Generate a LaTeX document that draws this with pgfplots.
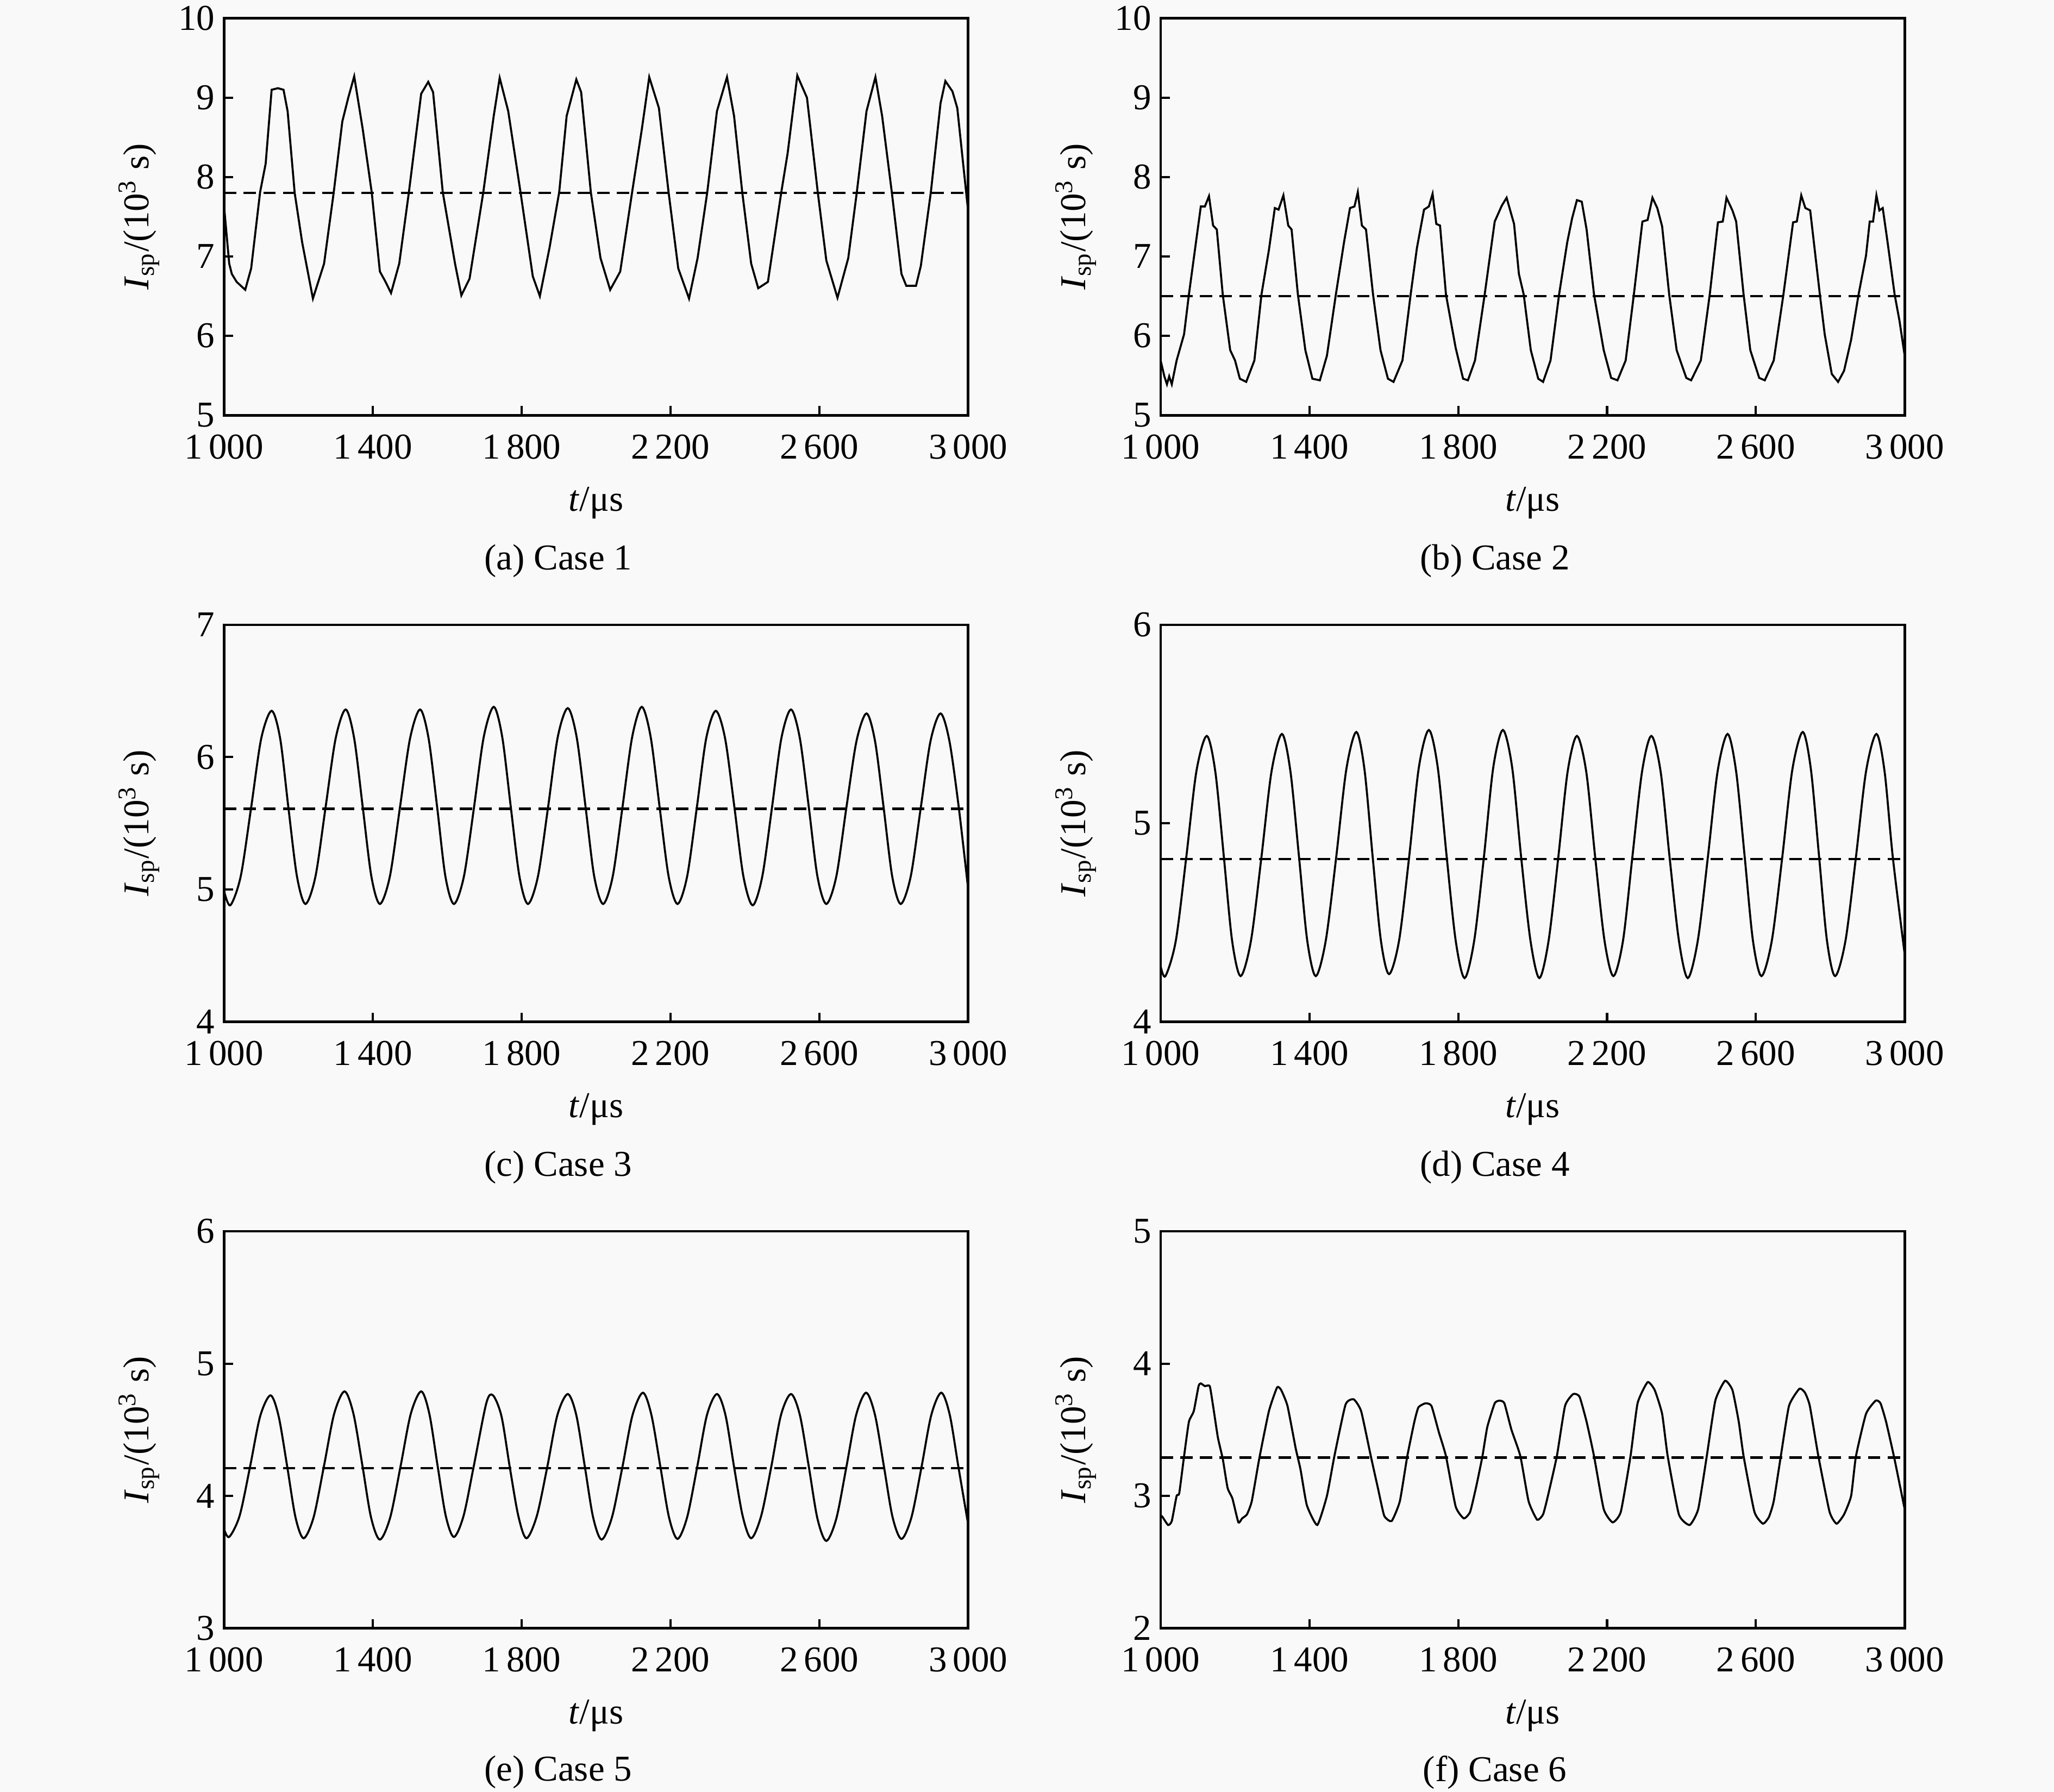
\documentclass[border=0pt]{standalone}
\usepackage{fontspec}
\setmainfont{Liberation Serif}
\usepackage{pgfplots}
\pgfplotsset{compat=1.18}
\definecolor{bg}{RGB}{249,249,249}
\pgfplotsset{
 panel/.style={
  width=204.48pt, height=109.08pt, scale only axis,
  xmin=1000, xmax=3000,
  xtick={1000,1400,1800,2200,2600,3000},
  xticklabels={1\,000,1\,400,1\,800,2\,200,2\,600,3\,000},
  tick align=inside, tick pos=left,
  major tick length=2.5pt,
  tick style={line width=0.6pt, black},
  axis line style={line width=0.7pt},
  tick label style={font=\fontsize{10}{12}\selectfont},
  label style={font=\fontsize{10}{12}\selectfont},
  /pgf/number format/assume math mode=true,
  xticklabel style={yshift=-1.8pt},
  yticklabel style={xshift=1pt},
  xlabel={\textit{t}/μs},
  ylabel={\textit{I}\textsubscript{sp}/(10\textsuperscript{3} s)},
  x label style={at={(axis description cs:0.5,-0.221)},anchor=center},
  y label style={at={(axis description cs:-0.114,0.5)},anchor=center},
  anchor=north west,
 },
 curve/.style={black, line width=0.55pt, no marks},
 mean/.style={black, line width=0.65pt, dash pattern=on 3.4pt off 2pt, no marks},
}
\begin{document}
\begin{tikzpicture}
\path[use as bounding box, fill=bg] (0,0) rectangle (564.48pt,-492.48pt);

% (a) Case 1
\begin{axis}[panel, at={(61.56pt,-5.04pt)}, ymin=5, ymax=10, ytick={5,6,7,8,9,10}]
\addplot[mean] coordinates {(1000,7.80) (3000,7.80)};
\addplot[curve] coordinates {
(1000,7.64) (1014,6.91) (1021,6.78) (1034,6.68) (1057,6.58) (1073,6.85) (1097,7.81) (1112,8.17) (1128,9.10) (1145,9.12) (1160,9.10) (1171,8.83) (1190,7.80) (1210,7.18) (1239,6.47) (1269,6.91) (1295,7.81) (1318,8.70) (1334,9.00) (1350,9.27) (1373,8.60) (1397,7.81) (1419,6.81) (1432,6.70) (1449,6.54) (1471,6.91) (1497,7.81) (1530,9.05) (1549,9.20) (1562,9.07) (1588,7.81) (1621,6.91) (1638,6.51) (1660,6.72) (1697,7.81) (1725,8.77) (1741,9.25) (1764,8.83) (1797,7.81) (1830,6.75) (1849,6.50) (1875,7.11) (1901,7.81) (1921,8.77) (1947,9.23) (1960,9.07) (1986,7.81) (2012,6.98) (2038,6.58) (2065,6.81) (2097,7.81) (2123,8.60) (2143,9.26) (2169,8.87) (2195,7.81) (2221,6.85) (2250,6.47) (2273,6.98) (2299,7.81) (2325,8.83) (2352,9.26) (2371,8.77) (2393,7.81) (2417,6.91) (2436,6.60) (2462,6.68) (2498,7.81) (2515,8.30) (2541,9.28) (2567,9.00) (2596,7.81) (2619,6.95) (2649,6.48) (2678,6.98) (2701,7.81) (2727,8.83) (2751,9.26) (2769,8.77) (2795,7.81) (2821,6.78) (2834,6.63) (2860,6.63) (2873,6.88) (2900,7.81) (2926,8.93) (2939,9.21) (2958,9.08) (2971,8.87) (3000,7.58)
};
\end{axis}

% (b) Case 2
\begin{axis}[panel, at={(318.96pt,-5.04pt)}, ymin=5, ymax=10, ytick={5,6,7,8,9,10}]
\addplot[mean] coordinates {(1000,6.50) (3000,6.50)};
\addplot[curve] coordinates {
(1000,5.69) (1010,5.49) (1017,5.39) (1023,5.49) (1030,5.39) (1043,5.69) (1063,6.02) (1076,6.52) (1093,7.11) (1108,7.63) (1119,7.63) (1130,7.76) (1141,7.39) (1151,7.34) (1167,6.52) (1187,5.82) (1200,5.69) (1213,5.46) (1230,5.42) (1252,5.69) (1271,6.52) (1291,7.08) (1307,7.61) (1317,7.59) (1330,7.77) (1343,7.39) (1352,7.34) (1369,6.52) (1389,5.82) (1408,5.46) (1428,5.44) (1447,5.75) (1471,6.52) (1493,7.18) (1509,7.61) (1521,7.63) (1530,7.81) (1541,7.39) (1552,7.34) (1571,6.52) (1591,5.82) (1611,5.46) (1626,5.42) (1650,5.69) (1672,6.52) (1689,7.11) (1708,7.59) (1721,7.63) (1731,7.79) (1741,7.41) (1751,7.39) (1767,6.52) (1793,5.85) (1813,5.46) (1826,5.44) (1845,5.69) (1871,6.52) (1898,7.44) (1917,7.64) (1930,7.74) (1950,7.41) (1963,6.78) (1976,6.52) (1995,5.82) (2015,5.46) (2028,5.42) (2048,5.69) (2071,6.52) (2093,7.18) (2106,7.48) (2119,7.71) (2132,7.69) (2145,7.34) (2165,6.52) (2191,5.82) (2211,5.47) (2228,5.44) (2250,5.69) (2272,6.52) (2295,7.44) (2309,7.46) (2322,7.74) (2335,7.61) (2348,7.38) (2367,6.52) (2387,5.82) (2413,5.47) (2426,5.44) (2452,5.69) (2476,6.52) (2498,7.43) (2511,7.44) (2521,7.74) (2537,7.58) (2547,7.44) (2567,6.52) (2585,5.82) (2609,5.47) (2624,5.44) (2648,5.69) (2674,6.52) (2700,7.43) (2710,7.44) (2722,7.77) (2733,7.61) (2746,7.58) (2772,6.52) (2785,6.02) (2804,5.52) (2821,5.42) (2837,5.56) (2856,5.95) (2876,6.52) (2896,7.01) (2906,7.44) (2915,7.44) (2924,7.77) (2932,7.58) (2941,7.61) (2954,7.18) (2973,6.52) (2986,6.19) (3000,5.75)
};
\end{axis}

% (c) Case 3
\begin{axis}[panel, at={(61.56pt,-171.72pt)}, ymin=4, ymax=7, ytick={4,5,6,7}]
\addplot[mean] coordinates {(1000,5.61) (3000,5.61)};
\addplot[curve, smooth] coordinates {
(1000,4.99) (1017,4.88) (1045,5.10) (1073,5.62) (1100,6.14) (1128,6.35) (1151,6.14) (1173,5.62) (1196,5.10) (1219,4.89) (1246,5.10) (1273,5.62) (1300,6.14) (1327,6.36) (1350,6.14) (1373,5.62) (1396,5.10) (1419,4.89) (1446,5.10) (1473,5.62) (1500,6.14) (1527,6.36) (1550,6.14) (1573,5.62) (1595,5.10) (1618,4.89) (1645,5.10) (1672,5.62) (1698,6.15) (1725,6.38) (1748,6.15) (1771,5.62) (1794,5.10) (1817,4.89) (1844,5.10) (1871,5.62) (1897,6.15) (1924,6.37) (1948,6.15) (1972,5.62) (1995,5.10) (2019,4.89) (2045,5.10) (2071,5.62) (2097,6.15) (2123,6.38) (2147,6.15) (2171,5.62) (2195,5.10) (2219,4.89) (2245,5.10) (2271,5.62) (2296,6.14) (2322,6.35) (2347,6.14) (2372,5.62) (2396,5.10) (2421,4.88) (2447,5.10) (2473,5.62) (2498,6.14) (2524,6.36) (2548,6.14) (2572,5.62) (2595,5.10) (2619,4.89) (2646,5.10) (2673,5.62) (2700,6.12) (2727,6.33) (2750,6.12) (2773,5.62) (2796,5.10) (2819,4.89) (2846,5.10) (2873,5.62) (2899,6.12) (2926,6.33) (2950,6.12) (2975,5.62) (3000,5.01)
};
\end{axis}

% (d) Case 4
\begin{axis}[panel, at={(318.96pt,-171.72pt)}, ymin=4, ymax=6, ytick={4,5,6}]
\addplot[mean] coordinates {(1000,4.82) (3000,4.82)};
\addplot[curve, smooth] coordinates {
(1000,4.28) (1013,4.23) (1041,4.41) (1069,4.83) (1096,5.26) (1124,5.44) (1147,5.26) (1170,4.83) (1192,4.41) (1215,4.23) (1243,4.41) (1271,4.83) (1298,5.26) (1326,5.45) (1349,5.26) (1372,4.83) (1394,4.41) (1417,4.23) (1444,4.41) (1472,4.83) (1499,5.27) (1526,5.46) (1548,5.27) (1570,4.83) (1592,4.41) (1614,4.24) (1641,4.41) (1668,4.83) (1694,5.28) (1721,5.47) (1745,5.28) (1769,4.83) (1793,4.41) (1817,4.22) (1843,4.41) (1869,4.83) (1894,5.28) (1920,5.47) (1945,5.28) (1969,4.83) (1994,4.41) (2018,4.22) (2043,4.41) (2069,4.83) (2094,5.26) (2119,5.44) (2144,5.26) (2168,4.83) (2193,4.41) (2217,4.23) (2243,4.41) (2268,4.83) (2294,5.26) (2319,5.44) (2344,5.26) (2368,4.83) (2393,4.41) (2417,4.22) (2444,4.41) (2471,4.83) (2497,5.26) (2524,5.45) (2547,5.26) (2570,4.83) (2592,4.41) (2615,4.23) (2643,4.41) (2671,4.83) (2698,5.27) (2726,5.46) (2748,5.27) (2770,4.83) (2791,4.41) (2813,4.23) (2841,4.41) (2869,4.83) (2896,5.26) (2924,5.45) (2946,5.26) (2968,4.83) (3000,4.34)
};
\end{axis}

% (e) Case 5
\begin{axis}[panel, at={(61.56pt,-338.4pt)}, ymin=3, ymax=6, ytick={3,4,5,6}]
\addplot[mean] coordinates {(1000,4.21) (3000,4.21)};
\addplot[curve, smooth] coordinates {
(1000,3.75) (1014,3.69) (1042,3.85) (1070,4.22) (1097,4.60) (1125,4.76) (1147,4.60) (1170,4.22) (1192,3.84) (1214,3.68) (1241,3.84) (1269,4.23) (1296,4.62) (1324,4.79) (1348,4.62) (1372,4.23) (1395,3.84) (1419,3.67) (1447,3.84) (1475,4.23) (1502,4.62) (1530,4.79) (1552,4.62) (1574,4.23) (1596,3.85) (1618,3.69) (1644,3.85) (1671,4.22) (1705,4.70) (1723,4.76) (1746,4.60) (1768,4.22) (1791,3.85) (1813,3.68) (1841,3.85) (1869,4.22) (1896,4.61) (1924,4.77) (1947,4.61) (1970,4.22) (1992,3.84) (2015,3.67) (2043,3.84) (2071,4.22) (2098,4.61) (2126,4.78) (2149,4.61) (2173,4.22) (2196,3.84) (2219,3.675) (2245,3.84) (2272,4.22) (2298,4.61) (2325,4.77) (2348,4.61) (2371,4.22) (2394,3.85) (2417,3.68) (2444,3.85) (2471,4.22) (2497,4.61) (2524,4.77) (2548,4.61) (2572,4.22) (2595,3.83) (2619,3.66) (2646,3.83) (2673,4.22) (2699,4.61) (2726,4.78) (2750,4.61) (2774,4.22) (2797,3.84) (2821,3.675) (2848,3.84) (2875,4.22) (2901,4.61) (2928,4.78) (2951,4.61) (2974,4.22) (3000,3.79)
};
\end{axis}

% (f) Case 6
\begin{axis}[panel, at={(318.96pt,-338.4pt)}, ymin=2, ymax=5, ytick={2,3,4,5}]
\addplot[mean] coordinates {(1000,3.29) (3000,3.29)};
\addplot[curve, smooth, tension=0.3] coordinates {
(1000,2.85) (1004,2.845) (1020,2.78) (1030,2.81) (1043,3.00) (1050,3.02) (1063,3.30) (1076,3.56) (1089,3.64) (1102,3.83) (1108,3.85) (1119,3.83) (1132,3.83) (1141,3.68) (1154,3.44) (1167,3.28) (1180,3.06) (1193,2.98) (1209,2.80) (1219,2.83) (1232,2.86) (1245,2.96) (1265,3.28) (1291,3.64) (1313,3.82) (1324,3.80) (1341,3.68) (1363,3.36) (1376,3.20) (1393,2.93) (1421,2.78) (1447,3.00) (1467,3.30) (1497,3.69) (1519,3.73) (1539,3.64) (1565,3.30) (1584,3.06) (1601,2.85) (1621,2.81) (1643,2.96) (1663,3.30) (1682,3.56) (1693,3.67) (1712,3.70) (1728,3.68) (1748,3.48) (1767,3.30) (1793,2.92) (1815,2.83) (1832,2.88) (1849,3.08) (1865,3.30) (1878,3.52) (1898,3.70) (1911,3.72) (1924,3.70) (1943,3.50) (1967,3.30) (1989,2.96) (2012,2.82) (2028,2.86) (2041,3.00) (2065,3.30) (2087,3.68) (2109,3.77) (2126,3.75) (2145,3.56) (2165,3.30) (2191,2.90) (2215,2.80) (2237,2.88) (2263,3.30) (2282,3.70) (2309,3.86) (2328,3.80) (2348,3.62) (2363,3.30) (2393,2.86) (2422,2.78) (2445,2.90) (2468,3.30) (2491,3.72) (2517,3.87) (2537,3.80) (2554,3.56) (2567,3.30) (2596,2.88) (2619,2.79) (2635,2.84) (2648,2.96) (2667,3.30) (2689,3.68) (2717,3.81) (2732,3.78) (2745,3.68) (2768,3.30) (2798,2.88) (2817,2.79) (2837,2.86) (2856,3.00) (2869,3.30) (2896,3.62) (2922,3.72) (2935,3.70) (2950,3.56) (2971,3.30) (2987,3.08) (3000,2.90)
};
\end{axis}

\begin{scope}[every node/.style={font=\fontsize{10}{12}\selectfont, inner sep=0pt}]
\node at (153.4pt,-154.1pt) {(a) Case 1};
\node at (410.8pt,-154.1pt) {(b) Case 2};
\node at (153.4pt,-320.8pt) {(c) Case 3};
\node at (410.8pt,-320.8pt) {(d) Case 4};
\node at (153.4pt,-487.1pt) {(e) Case 5};
\node at (410.8pt,-487.1pt) {(f) Case 6};
\end{scope}
\end{tikzpicture}
\end{document}
